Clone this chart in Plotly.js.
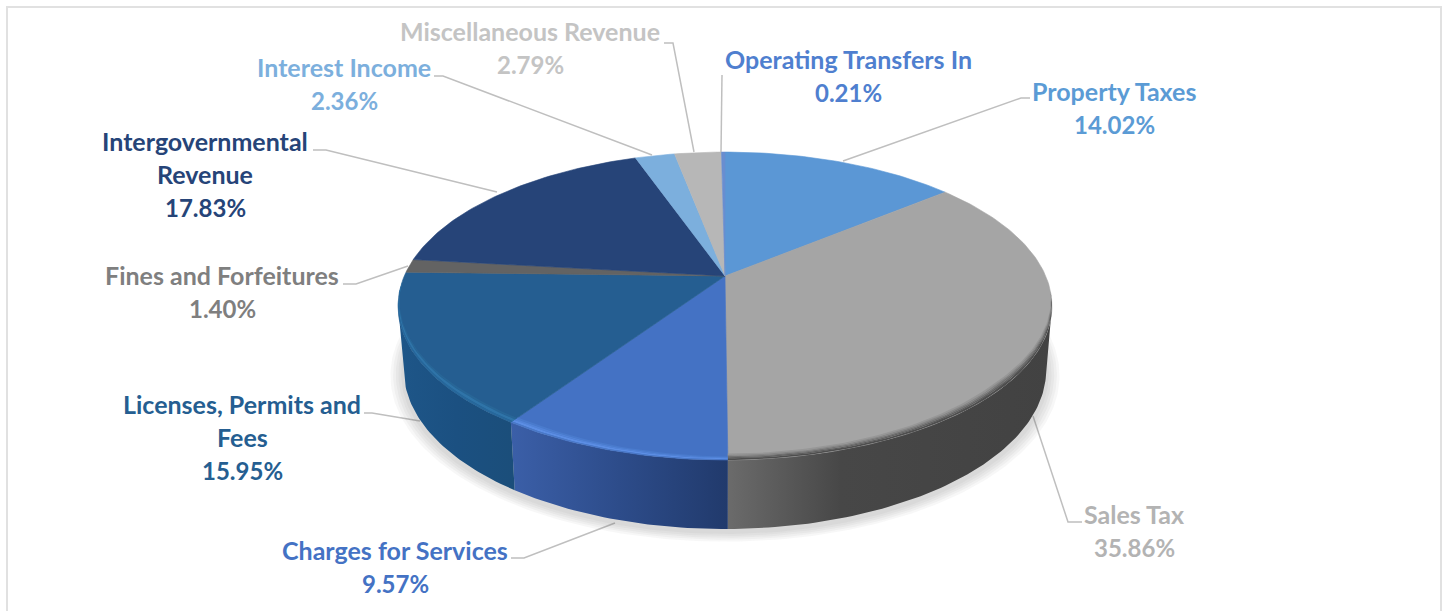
<!DOCTYPE html>
<html><head><meta charset="utf-8">
<script src="https://cdn.plot.ly/plotly-3.0.1.min.js"></script>
<style>html,body{margin:0;padding:0;background:#fff;overflow:hidden}#c{width:1447px;height:611px}</style>
</head><body><div id="c"></div>
<script>
const categories = ["Property Taxes","Sales Tax","Charges for Services","Licenses, Permits and Fees","Fines and Forfeitures","Intergovernmental Revenue","Interest Income","Miscellaneous Revenue","Operating Transfers In"];
const shares = [14.02,35.86,9.57,15.95,1.40,17.83,2.36,2.79,0.21];
const faceColors = ["#5b97d5","#a5a5a5","#4472c4","#255e91","#636363","#264478","#7cafdd","#b7b7b7","#698ed0"];
const labelColors = ["#5b9bd5","#b3b3b3","#4472c4","#255e91","#7f7f7f","#264478","#7cafdd","#c4c4c4","#4f7fcf"];
const labelLines = [["Property Taxes"],["Sales Tax"],["Charges for Services"],["Licenses, Permits and","Fees"],["Fines and Forfeitures"],["Intergovernmental","Revenue"],["Interest Income"],["Miscellaneous Revenue"],["Operating Transfers In"]];
const labelX = [1114,1134,395,242,222,205,344,530,848];
const labelTop = [91,514,550,404,275,141,67,31,59];
const lineStep = 33;

const K = 0.195, CX = 725;
const top3 = {A:320.7,B:148.1,Y:276};
const bot3 = {A:315,B:153,Y:339};
function proj(deg,r,g){const t=deg*Math.PI/180,u=r*Math.sin(t),v=r*Math.cos(t),w=1+K*v;return [CX+g.A*u/w,g.Y-g.B*v/w];}
function arc(a,b,r,g){const n=Math.max(2,Math.ceil(Math.abs(b-a)));const o=[];for(let i=0;i<=n;i++){const d=a+(b-a)*i/n;o.push(proj(d,typeof r==="function"?r(d):r,g));}return o;}
function poly(pts,extra){pts=pts.slice();pts.push(pts[0]);return Object.assign({type:"scatter",mode:"lines",x:pts.map(p=>p[0]),y:pts.map(p=>p[1]),fill:"toself",hoverinfo:"skip",showlegend:false,line:{width:0}},extra);}

const total = shares.reduce((a,b)=>a+b,0);
let acc=0; const ranges = shares.map(s=>{const a=acc/total*360;acc+=s;return [a,acc/total*360];});
const traces=[];
// soft shadow below the drum
[1.04,1.032,1.024,1.016,1.008].forEach(s=>{
  traces.push(poly(arc(0,360,s,{A:bot3.A,B:bot3.B,Y:bot3.Y+3}),{fillcolor:"rgba(90,90,90,0.05)"}));
});
// side walls, clipped to the silhouette tangents of the drum
const tangent=Math.acos(-K)*180/Math.PI;
const walls={1:[[0,"#6b6b6b"],[0.35,"#474747"],[1,"#424242"]],2:[[0,"#3b5fa8"],[0.5,"#2d4c8a"],[1,"#213a6c"]],3:[[0,"#1e5688"],[0.5,"#1b5081"],[1,"#1b4e7a"]]};
Object.keys(walls).forEach(i=>{
  const a=Math.max(ranges[i][0],tangent), b=Math.min(ranges[i][1],360-tangent);
  traces.push(poly(arc(a,b,1,top3).concat(arc(b,a,1,bot3)),{fillgradient:{type:"horizontal",colorscale:walls[i]}}));
});
// top faces
categories.forEach((c,i)=>{
  const [a,b]=ranges[i];
  traces.push(poly([[CX,top3.Y]].concat(arc(a,b,1,top3)),{name:c,fillcolor:faceColors[i],line:{width:0.6,color:faceColors[i]}}));
});
// rim bevel on the front faces, tapering out at the sides
function clamp(x){return Math.max(0,Math.min(1,x));}
function band(a,b,r0,r1,color,taper){
  const f=r=>d=>1-(1-r)*taper(d);
  traces.push(poly(arc(a,b,f(r1),top3).concat(arc(b,a,f(r0),top3)),{fillcolor:color}));
}
const sTaper=d=>clamp((d-96)/35);
const sE=ranges[1][1];
[[0.972,0.978,"#979797"],[0.978,0.983,"#868686"],[0.983,0.988,"#737373"],[0.988,0.993,"#606060"],[0.993,1.0,"#4e4e4e"]].forEach(s=>band(96,sE,s[0],s[1],s[2],sTaper));
const cTaper=d=>0.55+0.45*clamp((d-180)/30);
[[0.972,0.979,"#4a7bcd"],[0.979,0.986,"#5284d8"],[0.986,0.995,"#5c8ee4"],[0.995,1.0,"#4a79c8"]].forEach(s=>band(ranges[2][0],ranges[2][1],s[0],s[1],s[2],cTaper));
const lTaper=d=>clamp((268-d)/45);
[[0.975,0.983,"#286697"],[0.983,0.993,"#2f74a8"],[0.993,1.0,"#27689c"]].forEach(s=>band(ranges[3][0],268,s[0],s[1],s[2],lTaper));

const annotations=[];
categories.forEach((c,i)=>{
  const pct=shares[i].toFixed(2)+"%";
  labelLines[i].concat([pct]).forEach((t,j)=>annotations.push({xref:"x",yref:"y",x:labelX[i],y:labelTop[i]+j*lineStep,text:"<b>"+t+"</b>",showarrow:false,xanchor:"center",yanchor:"middle",font:{family:"Lato, sans-serif",size:t===pct?24:25,color:labelColors[i]}}));
});
const leaders=[
 "M664,43 L673,43 L694,152","M722,75 L721,152","M434,76 L443,76 L652,155","M1030,98 L1021,98 L843,161",
 "M313,150 L326,150 L497,192","M343,284 L356,284 L408,266","M364,413 L372,413 L420,421","M511,558 L524,558 L615,523","M1082,522 L1068,522 L1033,416"];
const shapes=leaders.map(p=>({type:"path",path:p,xref:"x",yref:"y",line:{color:"#bfbfbf",width:1.5},layer:"below"}));
shapes.push({type:"rect",xref:"x",yref:"y",x0:7,y0:7,x1:1441,y1:640,line:{color:"#e1e1e1",width:2},layer:"below"});

Plotly.newPlot("c",traces,{width:1447,height:611,margin:{l:0,r:0,t:0,b:0},paper_bgcolor:"#fff",plot_bgcolor:"#fff",showlegend:false,
 xaxis:{range:[0,1447],visible:false,fixedrange:true},yaxis:{range:[611,0],visible:false,fixedrange:true},annotations,shapes},{displayModeBar:false,staticPlot:true});
</script></body></html>
